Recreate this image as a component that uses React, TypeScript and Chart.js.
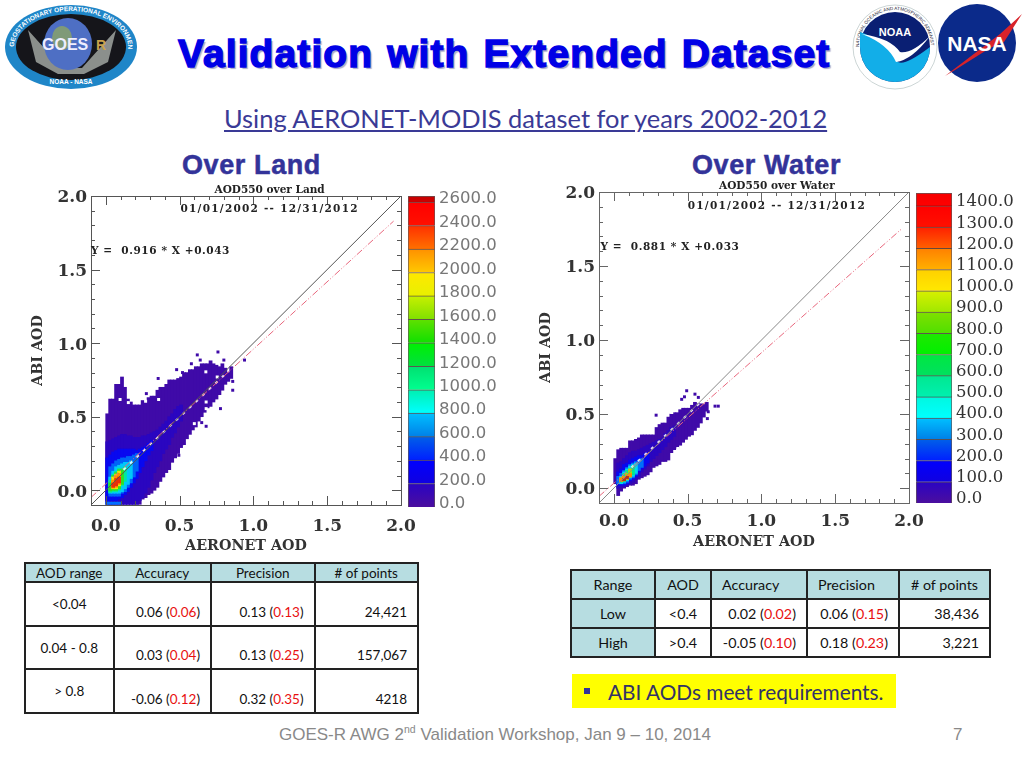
import React, { useEffect, useRef } from "react";
import { Chart, registerables } from "chart.js";

Chart.register(...registerables);

// ---------- plot data ----------
const BIN = 0.02;
const landColumnHigh = [.52,.62,.62,.72,.72,.77,.70,.62,.60,.58,.58,.58,.61,.60,.63,.64,.64,.68,.70,.70,.72,.75,.75,.75,.76,.77,.80,.80,.82,.82,.84,.84,.86,.86,.86,.88,.86,.85,.84,.86,.83,.80,.84];
const landColumnLow = [-.095,-.095,-.095,-.095,-.095,-.095,-.095,-.095,-.095,-.095,-.095,-.095,-.06,-.05,-.03,-.02,.00,.02,.06,.09,.12,.14,.19,.22,.25,.29,.31,.35,.38,.41,.43,.47,.50,.53,.56,.57,.60,.62,.65,.68,.72,.74,.76];
const waterColumnHigh = [.20,.26,.27,.27,.27,.32,.32,.33,.34,.36,.36,.36,.36,.36,.41,.43,.44,.44,.48,.50,.51,.51,.53,.54,.54,.54,.56,.58,.57,.57,.56,.58];
const waterColumnLow = [.03,-.05,-.02,.00,.01,.02,.02,.03,.06,.07,.08,.09,.11,.14,.15,.16,.18,.18,.19,.24,.26,.27,.29,.31,.33,.35,.36,.39,.41,.44,.48,.52];

// density layers: [column, low, high]
const landLevel1 = [[0,-.095,.33],[1,-.095,.34],[2,-.095,.35],[3,-.095,.36],[4,-.095,.37],[5,-.095,.38],[6,-.095,.38],[7,-.095,.37],[8,-.095,.37],[9,-.095,.36],[10,-.095,.36],[11,-.07,.36],[12,-.05,.37],[13,-.02,.37],[14,.02,.38],[15,.07,.39],[16,.12,.40],[17,.16,.41],[18,.2,.43],[19,.25,.45],[20,.28,.47],[21,.31,.5],[22,.36,.52],[23,.39,.55],[24,.43,.57],[25,.47,.58]];
const landLevel2 = [[0,-.07,.22],[1,-.07,.24],[2,-.07,.26],[3,-.07,.27],[4,-.06,.28],[5,-.05,.28],[6,-.03,.28],[7,-.01,.28],[8,.02,.28],[9,.05,.28],[10,.08,.27],[11,.12,.28],[12,.16,.29],[13,.2,.3],[14,.24,.32],[15,.27,.34]];
const landLevel3 = [[1,-.04,.16],[2,-.04,.18],[3,-.04,.2],[4,-.04,.21],[5,-.02,.22],[6,-.01,.22],[7,.02,.23],[8,.05,.23],[9,.09,.24],[10,.13,.25]];
const landLevel4 = [[1,-.02,.09],[2,-.02,.13],[3,-.02,.16],[4,-.02,.17],[5,-.01,.18],[6,.01,.19],[7,.04,.19],[8,.08,.2]];
const landLevel5 = [[1,-.015,.07],[2,-.01,.11],[3,-.01,.13],[4,0,.15],[5,.03,.15],[6,.06,.16]];
const landLevel6 = [[1,-.005,.05],[2,0,.1],[3,0,.12],[4,.01,.14],[5,.04,.14]];
const landLevel7 = [[2,.01,.09],[3,.01,.11],[4,.03,.13]];
const landLevel8 = [[2,.015,.07],[3,.02,.1],[4,.04,.115]];
const landLevel9 = [[2,.02,.05],[3,.03,.08],[4,.05,.09]];
const landFloor = [[0,-.095,-.08],[1,-.095,-.08],[2,-.095,-.08],[3,-.095,-.08],[4,-.095,-.08]];

const waterLevel1 = [[1,0,.17],[2,.005,.18],[3,.01,.2],[4,.02,.22],[5,.03,.24],[6,.04,.25],[7,.06,.25],[8,.08,.26],[9,.11,.27],[10,.13,.28],[11,.15,.29],[12,.18,.3],[13,.2,.31],[14,.22,.32],[15,.24,.33],[16,.26,.34],[17,.28,.37],[18,.31,.39],[19,.33,.41],[20,.35,.42]];
const waterLevel2 = [[1,.02,.11],[2,.02,.13],[3,.02,.16],[4,.03,.17],[5,.05,.19],[6,.06,.2],[7,.08,.21],[8,.11,.22],[9,.13,.22],[10,.15,.23],[11,.17,.24]];
const waterLevel3 = [[1,.03,.08],[2,.03,.1],[3,.03,.12],[4,.04,.14],[5,.06,.16],[6,.07,.17],[7,.09,.18],[8,.12,.19],[9,.14,.2]];
const waterLevel4 = [[2,.03,.08],[3,.04,.11],[4,.05,.13],[5,.07,.15],[6,.08,.16],[7,.1,.17]];
const waterLevel5 = [[2,.04,.07],[3,.045,.1],[4,.06,.12],[5,.08,.13],[6,.09,.15]];
const waterLevel6 = [[2,.05,.07],[3,.05,.08],[4,.06,.1],[5,.09,.13]];
const waterLevel7 = [[2,.045,.07],[3,.05,.08],[4,.06,.09],[5,.075,.1]];
const waterLevel8 = [[3,.05,.065],[4,.065,.08]];

// isolated cells and holes: [x, y]
const landStray = [[.62,.92],[.76,.94],[.355,.76],[.48,.82],[.52,.80],[.64,.885],[.58,.86],[.80,.885],[.94,.885],[.86,.68],[.86,.74],[.65,.46],[.68,.435],[.777,.555],[.52,.317],[.495,.238],[.333,.034],[.275,.657]];
const landHoles = [[.097,.617],[.153,.596],[.214,.6],[.27,.605],[.358,.617],[.678,.805],[.755,.77],[.68,.6],[.68,.555],[.755,.6],[.6,.453]];
const waterStray = [[.494,.658],[.479,.617],[.46,.6],[.55,.635],[.573,.613],[.634,.47],[.64,.516],[.708,.554],[.686,.554],[.607,.56],[.618,.538],[.287,.493]];
const waterHoles = [[.393,.511],[.434,.268],[.512,.336]];

const landFit = { slope: 0.916, intercept: 0.043 };
const waterFit = { slope: 0.881, intercept: 0.033 };
const axisTickLabels = [0, 0.5, 1, 1.5, 2];

const landLevelColors = ["#2a06c0", "#0808f0", "#0064f8", "#00c8f8", "#00e8a0", "#30e020", "#e8ec00", "#ff9000", "#e83008"];
const waterLevelColors = ["#2a06c0", "#0808f0", "#0070f8", "#00d8f0", "#00e890", "#a0e800", "#ff8c00", "#b83018"];

const landBarTicks = [0,200,400,600,800,1000,1200,1400,1600,1800,2000,2200,2400,2600];
const waterBarTicks = [0,100,200,300,400,500,600,700,800,900,1000,1100,1200,1300,1400];
const landBandBottom = ["#4b0e9e","#1000e0","#0020ff","#0080e8","#00ffff","#00ff90","#00e040","#10e000","#80e000","#e8f000","#ffc800","#ff7000","#ff1000","#d00000"];
const landBandTop = ["#2a04c4","#0000ff","#0060e8","#00c0ff","#00f0b0","#00e070","#00f000","#60e000","#c8f000","#ffe800","#ff9000","#ff3000","#ff0000","#a00000"];
const waterBandBottom = ["#4b0e9e","#1000e0","#0020ff","#0080e8","#00ffff","#00f0b0","#00e060","#00f000","#50e000","#a0e800","#ffe800","#ffb000","#ff6000","#ff1000","#ff0000"];
const waterBandTop = ["#2a04c4","#0000ff","#0060e8","#00c0ff","#00f8e0","#00e890","#00e840","#20e800","#80e000","#d8f000","#ffd000","#ff8000","#ff2000","#ff0000","#f00000"];

// ---------- table data ----------
const landHeader = ["AOD range", "Accuracy", "Precision", "# of points"];
const landRanges = ["<0.04", "0.04 - 0.8", "> 0.8"];
const landAccuracy = [["0.06", "0.06"], ["0.03", "0.04"], ["-0.06", "0.12"]];
const landPrecision = [["0.13", "0.13"], ["0.13", "0.25"], ["0.32", "0.35"]];
const landCounts = ["24,421", "157,067", "4218"];
const waterHeader = ["Range", "AOD", "Accuracy", "Precision", "# of points"];
const waterRanges = ["Low", "High"];
const waterAod = ["<0.4", ">0.4"];
const waterAccuracy = [["0.02", "0.02"], ["-0.05", "0.10"]];
const waterPrecision = [["0.06", "0.15"], ["0.18", "0.23"]];
const waterCounts = ["38,436", "3,221"];

// ---------- plugins ----------
const frameTicks = {
  id: "frameTicks",
  afterDatasetsDraw(chart: any, _a: any, opts: any) {
    const { ctx, chartArea: a, scales } = chart;
    ctx.save();
    ctx.strokeStyle = opts.color;
    ctx.lineWidth = 1;
    ctx.strokeRect(a.left + 0.5, a.top + 0.5, a.right - a.left, a.bottom - a.top);
    ctx.beginPath();
    for (let k = 0; k <= 20; k++) {
      const v = k / 10;
      const len = k % 5 === 0 ? 9 : 4;
      const px = Math.round(scales.x.getPixelForValue(v)) + 0.5;
      const py = Math.round(scales.y.getPixelForValue(v)) + 0.5;
      ctx.moveTo(px, a.bottom); ctx.lineTo(px, a.bottom - len);
      ctx.moveTo(px, a.top); ctx.lineTo(px, a.top + len);
      ctx.moveTo(a.left, py); ctx.lineTo(a.left + len, py);
      ctx.moveTo(a.right, py); ctx.lineTo(a.right - len, py);
    }
    ctx.stroke();
    ctx.fillStyle = "#222";
    ctx.font = "bold 10.5px 'DejaVu Serif'";
    ctx.textBaseline = "middle";
    for (const n of opts.notes) {
      ctx.textAlign = n.align;
      (ctx as any).letterSpacing = n.spacing + "px";
      ctx.fillText(n.text, scales.x.getPixelForValue(n.x), scales.y.getPixelForValue(n.y));
    }
    ctx.restore();
  },
};

function cellsFromColumns(high: number[], low: number[]) {
  return high.map((h, i) => ({ x: (i + 0.5) * BIN, y: [low[i], h] }));
}
function cellsFromLevel(level: number[][]) {
  return level.map(([c, lo, hi]) => ({ x: (c + 0.5) * BIN, y: [lo, hi] }));
}
function points(list: number[][]) {
  return list.map(([x, y]) => ({ x, y }));
}

function buildDensity(cfg: any) {
  const barBase = { type: "bar", grouped: false, barThickness: 3.1, borderWidth: 0 };
  const datasets: any[] = [
    { ...barBase, data: cellsFromColumns(cfg.high, cfg.low), backgroundColor: "#3f0aa8", order: 90 },
  ];
  cfg.levels.forEach((lv: number[][], i: number) => {
    datasets.push({ ...barBase, data: cellsFromLevel(lv), backgroundColor: cfg.colors[i], order: 80 - i });
  });
  if (cfg.floor) datasets.push({ ...barBase, data: cellsFromLevel(cfg.floor), backgroundColor: "#0070ff", order: 60 });
  const dots = { type: "scatter", pointStyle: "rect", pointRadius: 2.1, pointBorderWidth: 0, showLine: false };
  datasets.push({ ...dots, data: points(cfg.stray), pointBackgroundColor: "#3f0aa8", order: 40 });
  datasets.push({ ...dots, data: points(cfg.holes), pointBackgroundColor: "#ffffff", order: 39 });
  const line = { type: "line", pointRadius: 0, fill: false, tension: 0 };
  datasets.push({ ...line, data: [{ x: 0.12, y: 0.14 }, { x: 0.8, y: 0.78 }], borderColor: "rgba(255,255,255,.85)", borderWidth: 2, borderDash: [3, 6], order: 30 });
  datasets.push({ ...line, data: [{ x: -0.1, y: cfg.fit.intercept - 0.1 * cfg.fit.slope }, { x: 1.95, y: cfg.fit.intercept + 1.95 * cfg.fit.slope }], borderColor: "#e8667c", borderWidth: 1, borderDash: [7, 2, 1, 2, 1, 2], order: 20 });
  datasets.push({ ...line, data: [{ x: -0.1, y: -0.1 }, { x: 2, y: 2 }], borderColor: cfg.lineColor, borderWidth: 1, order: 10 });
  return datasets;
}

function DensityPlot(props: any) {
  const ref = useRef<HTMLCanvasElement>(null);
  useEffect(() => {
    const c = props.cfg;
    const font = { family: "'DejaVu Serif'", size: 17, weight: "bold" as const };
    const fmt = (v: any) => (axisTickLabels.some((t) => Math.abs(t - v) < 1e-6) ? Number(v).toFixed(1) : "");
    const chart = new Chart(ref.current as any, {
      type: "bar",
      data: { datasets: buildDensity(c) },
      plugins: [frameTicks as any],
      options: {
        animation: false,
        responsive: false,
        events: [],
        layout: { padding: { top: c.padTop, right: c.padRight, left: 0, bottom: 0 } },
        plugins: {
          legend: { display: false },
          tooltip: { enabled: false },
          frameTicks: { color: c.frameColor, notes: c.notes },
        } as any,
        scales: {
          x: {
            type: "linear", offset: false, min: -0.1, max: 2,
            afterFit: (s: any) => { s.height = c.xAxisHeight; },
            grid: { display: false, offset: false, drawTicks: false }, border: { display: false },
            ticks: { stepSize: 0.1, autoSkip: false, maxRotation: 0, callback: fmt, font, color: c.tickColor, padding: c.xTickPad },
            title: { display: true, text: "AERONET AOD", font: { ...font, size: 14.3 }, color: c.tickColor, padding: { top: 2, bottom: 0 } },
          },
          y: {
            type: "linear", min: -0.1, max: 2,
            afterFit: (s: any) => { s.width = c.yAxisWidth; },
            grid: { display: false, drawTicks: false }, border: { display: false },
            ticks: { stepSize: 0.1, autoSkip: false, callback: fmt, font, color: c.tickColor, padding: 4, labelOffset: c.yLabelOffset },
            title: { display: true, text: "ABI AOD", font: { ...font, size: 14.3 }, color: c.tickColor, padding: { top: c.yTitlePad, bottom: 0 } },
          },
        },
      } as any,
    });
    return () => chart.destroy();
  }, []);
  return <canvas ref={ref} width={props.w} height={props.h} style={{ position: "absolute", left: props.x, top: props.y, width: props.w, height: props.h, filter: "blur(0.6px)" }} />;
}

function ColorBar(props: any) {
  const ref = useRef<HTMLCanvasElement>(null);
  useEffect(() => {
    const c = props.cfg;
    const datasets = c.bottom.map((_: string, i: number) => ({
      grouped: false,
      categoryPercentage: 1,
      barPercentage: 1,
      data: [[c.min + i * c.step, Math.min(c.min + (i + 1) * c.step, c.max)]],
      borderWidth: 1,
      borderColor: "rgba(50,30,30,.75)",
      backgroundColor: (ctx: any) => {
        const s = ctx.chart.scales?.y;
        const y0 = s ? s.getPixelForValue(c.min + i * c.step) : NaN;
        const y1 = s ? s.getPixelForValue(c.min + (i + 1) * c.step) : NaN;
        if (!Number.isFinite(y0) || !Number.isFinite(y1)) return c.bottom[i];
        const g = ctx.chart.ctx.createLinearGradient(0, y0, 0, y1);
        g.addColorStop(0, c.bottom[i]);
        g.addColorStop(1, c.top[i]);
        return g;
      },
    }));
    const chart = new Chart(ref.current as any, {
      type: "bar",
      data: { labels: [""], datasets },
      options: {
        animation: false,
        responsive: false,
        events: [],
        layout: { padding: { left: c.padLeft, top: c.padTop, bottom: c.padBottom, right: 0 } },
        plugins: { legend: { display: false }, tooltip: { enabled: false } },
        scales: {
          x: { display: false },
          y: {
            position: "right", min: c.min, max: c.max,
            afterFit: (s: any) => { s.width = c.axisWidth; },
            afterBuildTicks: (s: any) => { s.ticks = c.ticks.map((value: number) => ({ value })); },
            grid: { display: false, drawTicks: false }, border: { display: false },
            ticks: { autoSkip: false, padding: 4, labelOffset: 2, font: c.font, color: c.color, callback: (v: any) => Number(v).toFixed(1) },
          },
        },
      } as any,
    });
    return () => chart.destroy();
  }, []);
  return <canvas ref={ref} width={props.w} height={props.h} style={{ position: "absolute", left: props.x, top: props.y, width: props.w, height: props.h, filter: "blur(0.5px)" }} />;
}

// ---------- slide furniture ----------
const teal = "#b7dde1";
const Err = ({ pair }: { pair: string[] }) => (
  <span>{pair[0]} (<span style={{ color: "#e81010" }}>{pair[1]}</span>)</span>
);
const cellBase: React.CSSProperties = { border: "2px solid #222", padding: 0, boxSizing: "border-box", color: "#111", whiteSpace: "nowrap" };

function LandTable() {
  const widths = [88.5, 97.5, 103.5, 103.5];
  return (
    <table style={{ position: "absolute", left: 24, top: 562, width: 393, height: 150, borderCollapse: "collapse", tableLayout: "fixed", font: "13.5px Lato" }}>
      <colgroup>{widths.map((w, i) => <col key={i} style={{ width: w }} />)}</colgroup>
      <tbody>
        <tr style={{ height: 19 }}>
          {landHeader.map((h) => <td key={h} style={{ ...cellBase, background: teal, textAlign: "center" }}>{h}</td>)}
        </tr>
        {landRanges.map((r, i) => (
          <tr key={r} style={{ height: 43.6 }}>
            <td style={{ ...cellBase, textAlign: "center", verticalAlign: "top", paddingTop: 13 }}>{r}</td>
            <td style={{ ...cellBase, textAlign: "right", verticalAlign: "bottom", paddingRight: 10, paddingBottom: 5 }}><Err pair={landAccuracy[i]} /></td>
            <td style={{ ...cellBase, textAlign: "right", verticalAlign: "bottom", paddingRight: 10, paddingBottom: 5 }}><Err pair={landPrecision[i]} /></td>
            <td style={{ ...cellBase, textAlign: "right", verticalAlign: "bottom", paddingRight: 10, paddingBottom: 5 }}>{landCounts[i]}</td>
          </tr>
        ))}
      </tbody>
    </table>
  );
}

function WaterTable() {
  const widths = [84, 56, 96, 92, 91];
  const headAlign: any[] = ["center", "center", "left", "left", "center"];
  return (
    <table style={{ position: "absolute", left: 570, top: 569, width: 419, height: 87, borderCollapse: "collapse", tableLayout: "fixed", font: "14.3px Lato" }}>
      <colgroup>{widths.map((w, i) => <col key={i} style={{ width: w }} />)}</colgroup>
      <tbody>
        <tr style={{ height: 29 }}>
          {waterHeader.map((h, i) => (
            <td key={h} style={{ ...cellBase, background: teal, textAlign: headAlign[i], paddingLeft: headAlign[i] === "left" ? 10 : 0 }}>{h}</td>
          ))}
        </tr>
        {waterRanges.map((r, i) => (
          <tr key={r} style={{ height: 29 }}>
            <td style={{ ...cellBase, background: teal, textAlign: "center" }}>{r}</td>
            <td style={{ ...cellBase, textAlign: "center" }}>{waterAod[i]}</td>
            <td style={{ ...cellBase, textAlign: "right", paddingRight: 10 }}><Err pair={waterAccuracy[i]} /></td>
            <td style={{ ...cellBase, textAlign: "right", paddingRight: 10 }}><Err pair={waterPrecision[i]} /></td>
            <td style={{ ...cellBase, textAlign: "right", paddingRight: 10 }}>{waterCounts[i]}</td>
          </tr>
        ))}
      </tbody>
    </table>
  );
}

function Logos() {
  return (
    <svg width={1024} height={100} style={{ position: "absolute", left: 0, top: 0 }}>
      <defs>
        <path id="goesArc" d="M 14 47 A 57 36 0 0 1 128 47" fill="none" />
        <path id="noaaArc" d="M 859 47 A 36 37 0 0 1 931 47" fill="none" />
      </defs>
      <ellipse cx={71} cy={47} rx={66} ry={42} fill="#1f86c8" />
      <ellipse cx={71} cy={47} rx={55} ry={33} fill="#15151a" />
      <path d="M28 30 L62 68 L82 68 L116 30 L108 62 L84 74 L58 74 L36 62 Z" fill="#8b8f8c" />
      <ellipse cx={68} cy={44} rx={24} ry={26} fill="#4e6fc4" />
      <ellipse cx={62} cy={38} rx={10} ry={12} fill="#7f9a78" />
      <text x={42} y={50} fontFamily="'Liberation Sans'" fontWeight="bold" fontSize={16} fill="#eef">GOES</text>
      <text x={96} y={50} fontFamily="'Liberation Sans'" fontWeight="bold" fontSize={14} fill="#c9a24a">R</text>
      <text fontFamily="'Liberation Sans'" fontSize={6.5} fontWeight="bold" fill="#fff"><textPath href="#goesArc">GEOSTATIONARY OPERATIONAL ENVIRONMENTAL SATELLITE</textPath></text>
      <text x={71} y={84} textAnchor="middle" fontFamily="'Liberation Sans'" fontSize={6.5} fontWeight="bold" fill="#fff">NOAA - NASA</text>

      <ellipse cx={895} cy={47} rx={42} ry={42} fill="#fff" stroke="#9aa" strokeWidth={0.5} />
      <text fontFamily="'Liberation Sans'" fontSize={4.6} fill="#223"><textPath href="#noaaArc">NATIONAL OCEANIC AND ATMOSPHERIC ADMINISTRATION</textPath></text>
      <circle cx={895} cy={47} r={35} fill="#0a1f73" />
      <path d="M860 47 A35 35 0 0 0 930 47 Q 905 66 898 62 Q 885 40 860 32 Z" fill="#12aee8" />
      <path d="M862 34 Q 888 44 896 62 Q 912 60 930 36 Q 912 54 900 52 Q 890 38 862 34 Z" fill="#fff" />
      <text x={895} y={36} textAnchor="middle" fontFamily="'Liberation Sans'" fontWeight="bold" fontSize={11} fill="#fff">NOAA</text>

      <circle cx={977} cy={43} r={39} fill="#0b2a8a" />
      <path d="M945 76 L1000 34 L1022 14 L1004 42 L990 48 L955 70 Z" fill="#d8232a" />
      <text x={977} y={51} textAnchor="middle" fontFamily="'Liberation Sans'" fontWeight="bold" fontSize={21} fill="#fff">NASA</text>
    </svg>
  );
}

const landCfg = {
  high: landColumnHigh, low: landColumnLow,
  levels: [landLevel1, landLevel2, landLevel3, landLevel4, landLevel5, landLevel6, landLevel7, landLevel8, landLevel9],
  colors: landLevelColors, floor: landFloor, stray: landStray, holes: landHoles, fit: landFit,
  lineColor: "#555", frameColor: "#555", tickColor: "#333",
  padTop: 16, padRight: 29, xAxisHeight: 50, yAxisWidth: 71, xTickPad: 11, yLabelOffset: 2, yTitlePad: 10,
  notes: [
    { text: "AOD550 over Land", x: 1.11, y: 2.04, align: "center", spacing: 0 },
    { text: "01/01/2002 -- 12/31/2012", x: 1.11, y: 1.91, align: "center", spacing: 1.25 },
    { text: "Y =  0.916 * X +0.043", x: -0.1, y: 1.625, align: "left", spacing: 0.6 },
  ],
};
const waterCfg = {
  high: waterColumnHigh, low: waterColumnLow,
  levels: [waterLevel1, waterLevel2, waterLevel3, waterLevel4, waterLevel5, waterLevel6, waterLevel7, waterLevel8],
  colors: waterLevelColors, floor: null, stray: waterStray, holes: waterHoles, fit: waterFit,
  lineColor: "#888", frameColor: "#666", tickColor: "#333",
  padTop: 16, padRight: 31, xAxisHeight: 48, yAxisWidth: 69, xTickPad: 8, yLabelOffset: 1.5, yTitlePad: 8,
  notes: [
    { text: "AOD550 over Water", x: 1.105, y: 2.04, align: "center", spacing: 0 },
    { text: "01/01/2002 -- 12/31/2012", x: 1.105, y: 1.905, align: "center", spacing: 1.25 },
    { text: "Y =  0.881 * X +0.033", x: -0.09, y: 1.625, align: "left", spacing: 0.6 },
  ],
};
const landBar = {
  bottom: landBandBottom, top: landBandTop, ticks: landBarTicks, min: -43, max: 2609, step: 200,
  padLeft: 3, padTop: 16, padBottom: 18, axisWidth: 70,
  font: { family: "'DejaVu Sans'", size: 16.5 }, color: "#777",
};
const waterBar = {
  bottom: waterBandBottom, top: waterBandTop, ticks: waterBarTicks, min: -28, max: 1433, step: 100,
  padLeft: 4, padTop: 16, padBottom: 18, axisWidth: 70,
  font: { family: "'DejaVu Serif'", size: 16.5 }, color: "#333",
};

const heading: React.CSSProperties = { position: "absolute", whiteSpace: "nowrap", fontFamily: "'Liberation Sans'", fontWeight: "bold" };

export default function App() {
  return (
    <div style={{ position: "absolute", left: 0, top: 0, width: 1024, height: 768, overflow: "hidden", background: "#fff" }}>
      <Logos />
      <div style={{ ...heading, left: 178, top: 32, fontSize: 39, lineHeight: "44px", letterSpacing: 1.1, wordSpacing: 2, color: "#0000e6", WebkitTextStroke: "1.4px #0000e6", textShadow: "2px 2px 1px #a9a9c9" }}>Validation with Extended Dataset</div>
      <div style={{ position: "absolute", left: 224, top: 102, fontFamily: "Lato", fontSize: 25.45, lineHeight: "32px", color: "#3a3a96", textDecoration: "underline", whiteSpace: "nowrap" }}>Using AERONET-MODIS dataset for years 2002-2012</div>
      <div style={{ ...heading, left: 182, top: 150, fontSize: 27, lineHeight: "30px", letterSpacing: 0.6, color: "#333399", WebkitTextStroke: "0.5px #333399" }}>Over Land</div>
      <div style={{ ...heading, left: 692, top: 150, fontSize: 27, lineHeight: "30px", letterSpacing: 0.6, color: "#333399", WebkitTextStroke: "0.5px #333399" }}>Over Water</div>

      <DensityPlot cfg={landCfg} x={20} y={180} w={410} h={375} />
      <DensityPlot cfg={waterCfg} x={530} y={176} w={410} h={375} />
      <ColorBar cfg={landBar} x={405} y={180} w={100} h={345} />
      <ColorBar cfg={waterBar} x={912} y={177} w={110} h={344} />

      <LandTable />
      <WaterTable />
      <div style={{ position: "absolute", left: 572, top: 674, width: 324, height: 34, background: "#ffff00" }}>
        <span style={{ position: "absolute", left: 12, top: 14, width: 6, height: 6, background: "#333399" }} />
        <span style={{ position: "absolute", left: 36, top: 4, fontFamily: "Lato", fontSize: 20.8, lineHeight: "28px", color: "#333366", whiteSpace: "nowrap" }}>ABI AODs meet requirements.</span>
      </div>
      <div style={{ position: "absolute", left: 279, top: 725, fontFamily: "'Liberation Sans'", fontSize: 17, lineHeight: "20px", color: "#898989", whiteSpace: "nowrap" }}>
        GOES-R AWG 2<sup style={{ fontSize: 10.5, lineHeight: 0 }}>nd</sup> Validation Workshop, Jan 9 – 10, 2014
      </div>
      <div style={{ position: "absolute", left: 953, top: 725, fontFamily: "'Liberation Sans'", fontSize: 17, lineHeight: "20px", color: "#898989" }}>7</div>
    </div>
  );
}
